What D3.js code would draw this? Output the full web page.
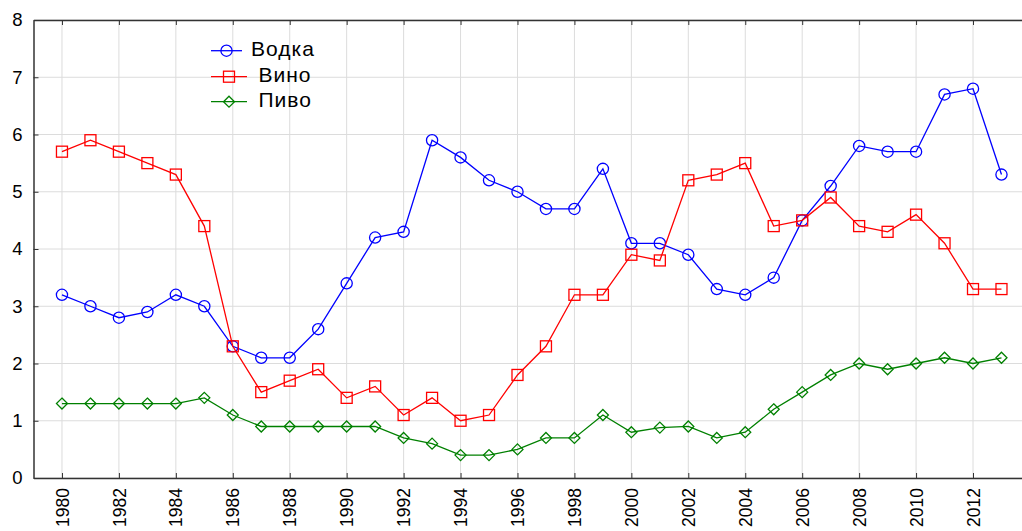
<!DOCTYPE html>
<html><head><meta charset="utf-8">
<script src="https://cdn.jsdelivr.net/npm/d3@7"></script>
<style>body{margin:0;background:#fff;}svg{display:block;font-family:Arial,"Liberation Sans",sans-serif;}</style>
</head><body><svg id="c" width="1022" height="531"></svg>
<script>
const years = d3.range(1980, 2014);
const vodka = [3.2,3.0,2.8,2.9,3.2,3.0,2.3,2.1,2.1,2.6,3.4,4.2,4.3,5.9,5.6,5.2,5.0,4.7,4.7,5.4,4.1,4.1,3.9,3.3,3.2,3.5,4.5,5.1,5.8,5.7,5.7,6.7,6.8,5.3];
const wine  = [5.7,5.9,5.7,5.5,5.3,4.4,2.3,1.5,1.7,1.9,1.4,1.6,1.1,1.4,1.0,1.1,1.8,2.3,3.2,3.2,3.9,3.8,5.2,5.3,5.5,4.4,4.5,4.9,4.4,4.3,4.6,4.1,3.3,3.3];
const beer  = [1.3,1.3,1.3,1.3,1.3,1.4,1.1,0.9,0.9,0.9,0.9,0.9,0.7,0.6,0.4,0.4,0.5,0.7,0.7,1.1,0.8,0.88,0.9,0.7,0.8,1.2,1.5,1.8,2.0,1.9,2.0,2.1,2.0,2.1];
const seriesNames = ["Водка","Вино","Пиво"];
const xTicks = d3.range(1980, 2013, 2);
const yTicks = [0,1,2,3,4,5,6,7,8];

const svg = d3.select("#c");
const x = d3.scaleLinear().domain([1979, 2014]).range([33.5, 33.5 + 35*28.47]);
const y = d3.scaleLinear().domain([0, 8]).range([478, 20]);
const L = 33.5, R = 1030, T = 20, B = 478;

// grid
svg.append("g").selectAll("line.gx").data(xTicks).join("line")
  .attr("x1", d=>x(d)).attr("x2", d=>x(d)).attr("y1", T).attr("y2", B)
  .attr("stroke", "#dcdcdc").attr("stroke-width", 1);
svg.append("g").selectAll("line.gy").data(yTicks).join("line")
  .attr("x1", L).attr("x2", R).attr("y1", d=>y(d)).attr("y2", d=>y(d))
  .attr("stroke", "#dcdcdc").attr("stroke-width", 1);

// axes
const ax = d3.axisBottom(x).tickValues(xTicks).tickFormat(d3.format("d")).tickSizeInner(-5).tickSizeOuter(0).tickPadding(12);
const gx = svg.append("g").attr("transform", `translate(0,${B})`).call(ax);
gx.select(".domain").attr("stroke", "#333").attr("stroke-width", 1.5);
gx.selectAll(".tick line").attr("stroke", "#333");
gx.selectAll(".tick text").attr("font-size", 17.5).attr("fill", "#000")
  .attr("transform", "rotate(-90)").attr("text-anchor", "end")
  .attr("x", -10).attr("y", 0).attr("dy", "0.35em");

const axTop = d3.axisTop(x).tickValues(xTicks).tickFormat("").tickSizeInner(-5).tickSizeOuter(0);
const gt = svg.append("g").attr("transform", `translate(0,${T})`).call(axTop);
gt.select(".domain").attr("stroke", "#333").attr("stroke-width", 1.5);
gt.selectAll(".tick line").attr("stroke", "#333");

const ay = d3.axisLeft(y).tickValues(yTicks).tickFormat(d3.format("d")).tickSizeInner(-5).tickSizeOuter(0).tickPadding(11);
const gy = svg.append("g").attr("transform", `translate(${L},0)`).call(ay);
gy.select(".domain").attr("stroke", "#333").attr("stroke-width", 1.5);
gy.selectAll(".tick line").attr("stroke", "#333");
gy.selectAll(".tick text").attr("font-size", 18.5).attr("fill", "#000");

const line = d3.line().x((d,i)=>x(years[i])).y(d=>y(d));
const cols = ["#0000ff", "#ff0000", "#008000"];
const data = [vodka, wine, beer];

function marker(g, type, col) {
  if (type === 0) g.append("circle").attr("r", 5.6).attr("fill", "none").attr("stroke", col).attr("stroke-width", 1.3);
  else if (type === 1) g.append("rect").attr("x", -5.5).attr("y", -5.5).attr("width", 11).attr("height", 11).attr("fill", "none").attr("stroke", col).attr("stroke-width", 1.3);
  else g.append("path").attr("d", "M0,-5.5L5.5,0L0,5.5L-5.5,0Z").attr("fill", "none").attr("stroke", col).attr("stroke-width", 1.3);
}

data.forEach((s, k) => {
  svg.append("path").datum(s).attr("d", line).attr("fill", "none").attr("stroke", cols[k]).attr("stroke-width", 1.3);
  s.forEach((v, i) => {
    const g = svg.append("g").attr("transform", `translate(${x(years[i])},${y(v)})`);
    marker(g, k, cols[k]);
  });
});

// legend
const legY = [50.7, 76.7, 101.7];
const legLineEnd = [242, 247, 247];
const legMark = [226.5, 229, 229];
const legText = [251, 258.5, 258.5];
seriesNames.forEach((n, k) => {
  svg.append("line").attr("x1", 211).attr("x2", legLineEnd[k]).attr("y1", legY[k]).attr("y2", legY[k]).attr("stroke", cols[k]).attr("stroke-width", 1.3);
  const g = svg.append("g").attr("transform", `translate(${legMark[k]},${legY[k]})`);
  marker(g, k, cols[k]);
  svg.append("text").attr("x", legText[k]).attr("y", legY[k] + 5.5).attr("font-size", 21).attr("letter-spacing", 1).attr("fill", "#000").text(n);
});
</script></body></html>
